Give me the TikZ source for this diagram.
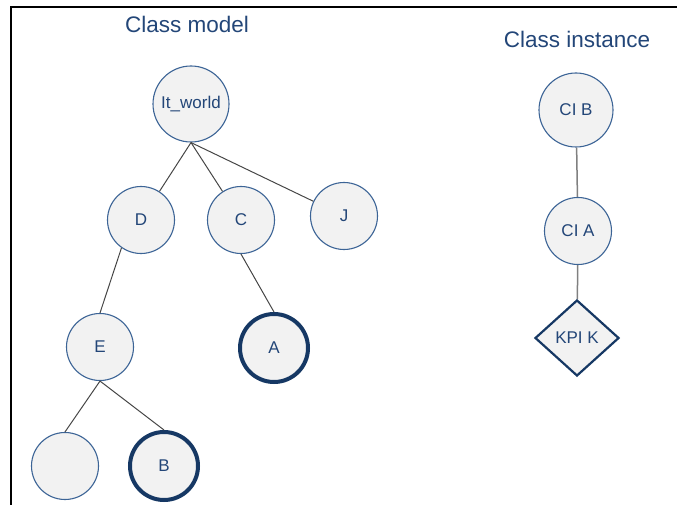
\documentclass[tikz,border=0pt]{standalone}
\usepackage{fontspec}
\setmainfont{Liberation Sans}
\usetikzlibrary{shapes.geometric}
\definecolor{NodeFill}{RGB}{242,242,242}
\definecolor{ThinBlue}{RGB}{60,100,150}
\definecolor{DarkNavy}{RGB}{22,56,100}
\definecolor{LabelBlue}{RGB}{35,70,120}
\definecolor{EdgeGray}{RGB}{70,70,70}

\begin{document}
\begin{tikzpicture}[x=1pt, y=-1pt,
	cls/.style={circle, draw=ThinBlue, line width=1.1pt, fill=NodeFill, minimum size=67pt,
		inner sep=0pt, text=LabelBlue, font=\fontsize{17}{17}\selectfont},
	leaf/.style={cls, draw=DarkNavy, line width=4pt, minimum size=68pt},
	kpi/.style={diamond, draw=DarkNavy, line width=2.2pt, fill=NodeFill, minimum width=84pt,
		minimum height=76pt, inner sep=0pt, text=LabelBlue, font=\fontsize{17}{17}\selectfont},
	link/.style={EdgeGray, line width=1pt},
	vlink/.style={gray, line width=1.5pt},
	title/.style={anchor=base, text=LabelBlue, font=\fontsize{22.5}{22.5}\selectfont}]
	\useasboundingbox (0,0) rectangle (677,505);
	% frame
	\draw[line width=1.5pt] (11,505) -- (11,7) -- (677,7);
	% titles
	\node[title] (tmodel) at (187,33) {Class model};
	\node[title] (tinst) at (577,48) {Class instance};
	% class model
	\node[cls, minimum size=76pt] (itw) at (191,104) {It\_world};
	\node[cls] (d) at (141,220) {D};
	\node[cls] (c) at (241,220) {C};
	\node[cls] (j) at (344,216) {J};
	\node[cls] (e) at (100,347) {E};
	\node[leaf] (a) at (274,348) {A};
	\node[cls] (blank) at (65,466) {};
	\node[leaf] (b) at (164,466) {B};
	\draw[link] (itw.south) -- (d);
	\draw[link] (itw.south) -- (c);
	\draw[link] (itw.south) -- (j);
	\draw[link] (d.235) -- (e.north);
	\draw[link] (c.south) -- (a.north);
	\draw[link] (e.south) -- (blank.north);
	\draw[link] (e.south) -- (b.north);
	% class instance
	\node[cls, minimum size=74pt] (cib) at (576,110) {CI B};
	\node[cls] (cia) at (578,231) {CI A};
	\node[kpi] (kpik) at (577,338) {KPI K};
	\draw[vlink] (cib) -- (cia);
	\draw[vlink] (cia) -- (kpik);
\end{tikzpicture}
\end{document}
